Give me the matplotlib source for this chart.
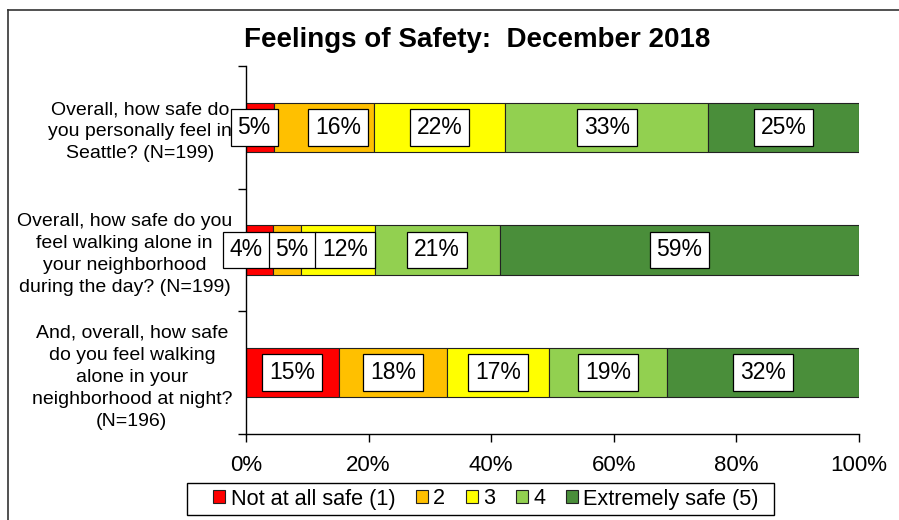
import matplotlib
matplotlib.use("Agg")
import matplotlib.pyplot as plt
from matplotlib.lines import Line2D
from matplotlib.patches import Patch, Rectangle
import numpy as np

plt.rcParams['font.family'] = ['Liberation Sans', 'DejaVu Sans']

title = "Feelings of Safety:  December 2018"
questions = [
    "Overall, how safe do\nyou personally feel in\nSeattle? (N=199)",
    "Overall, how safe do you\nfeel walking alone in\nyour neighborhood\nduring the day? (N=199)",
    "And, overall, how safe\ndo you feel walking\nalone in your\nneighborhood at night?\n(N=196)",
]
series_names = ["Not at all safe (1)", "2", "3", "4", "Extremely safe (5)"]
not_safe = [4.6, 4.4, 15.1]
level2 = [16.2, 4.6, 17.7]
level3 = [21.5, 12.0, 16.7]
level4 = [33.1, 20.4, 19.1]
extremely = [24.6, 58.6, 31.4]
label_texts = [
    ["5%", "4%", "15%"],
    ["16%", "5%", "18%"],
    ["22%", "12%", "17%"],
    ["33%", "21%", "19%"],
    ["25%", "59%", "32%"],
]
xticks = [0, 20, 40, 60, 80, 100]
xtick_labels = ["0%", "20%", "40%", "60%", "80%", "100%"]

colors = ["#FF0000", "#FFC000", "#FFFF00", "#92D050", "#4A8E3A"]
# label nudges in pixels (style: avoid overlapping boxes)
nudges = {(0, 0): -6, (1, 0): 14, (0, 1): -13, (1, 1): 5, (2, 1): 7}

fig = plt.figure(figsize=(8.99, 5.2), dpi=100)
ax = fig.add_axes([246/899, 1-434/520, (859-246)/899, (434-66)/520])

series = [not_safe, level2, level3, level4, extremely]
y = np.arange(len(questions))
left = np.zeros(len(questions))
for si, vals in enumerate(series):
    vals = np.array(vals)
    ax.barh(y, vals, left=left, height=0.4, color=colors[si],
            edgecolor="#222222", linewidth=0.8, label=series_names[si], zorder=2)
    for qi in range(len(questions)):
        cx = left[qi] + vals[qi] / 2
        dx = nudges.get((si, qi), 0)
        ax.annotate(label_texts[si][qi], (cx, y[qi]), xytext=(dx * 0.72, 0),
                    textcoords="offset points", ha="center", va="center",
                    fontsize=16.5, zorder=5,
                    bbox=dict(boxstyle="square,pad=0.3", fc="white",
                              ec="black", lw=0.9))
    left = left + vals

ax.set_xlim(0, 100)
ax.set_ylim(2.5, -0.5)
ax.set_xticks(xticks)
ax.set_xticklabels(xtick_labels, fontsize=16)
ax.set_yticks(y)
ax.set_yticklabels(questions, fontsize=14, multialignment="center", linespacing=1.38)
ax.set_yticks([-0.5, 0.5, 1.5, 2.5], minor=True)
ax.tick_params(axis="y", which="major", length=0, pad=10)
ax.tick_params(axis="y", which="minor", length=6, width=1, direction="out")
ax.tick_params(axis="x", length=6, width=1, direction="out", pad=9)
for s in ["top", "right"]:
    ax.spines[s].set_visible(False)
for s in ["left", "bottom"]:
    ax.spines[s].set_linewidth(1)
    ax.spines[s].set_color("black")

fig.text(477/899, 1-40/520, title, ha="center", va="center",
         fontsize=20, fontweight="bold")

handles = [Patch(facecolor=c, edgecolor="#222222", linewidth=0.8) for c in colors]
leg = fig.legend(handles, series_names, loc="center", bbox_to_anchor=(486/899, 1-499/520),
                 ncol=5, frameon=False,
                 prop={"size": 15.6},
                 handlelength=0.55, handleheight=0.55, handletextpad=0.25,
                 columnspacing=0.95, borderpad=0.15, borderaxespad=0)
fig.add_artist(Rectangle((187/899, 1-515/520), (774-187)/899, 32/520,
                         transform=fig.transFigure, fill=False, edgecolor="black", lw=1))

fig.add_artist(Line2D([8/899, 8/899], [0, 1-10/520], transform=fig.transFigure,
                      color="#333333", lw=1.2))
fig.add_artist(Line2D([8/899, 1], [1-10/520, 1-10/520], transform=fig.transFigure,
                      color="#333333", lw=1.2))

fig.savefig("out.png", dpi=100)
